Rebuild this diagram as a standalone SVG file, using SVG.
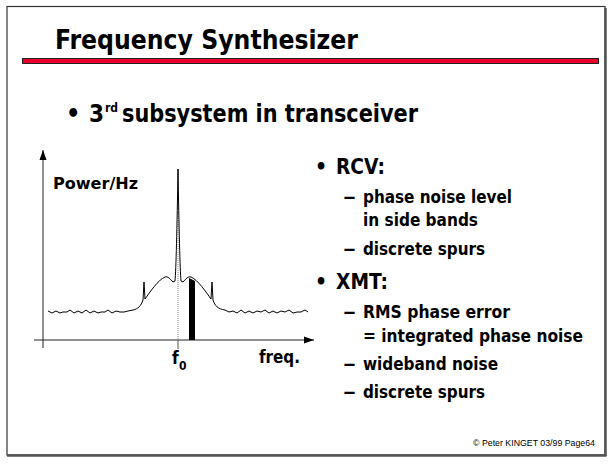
<svg xmlns="http://www.w3.org/2000/svg" width="613" height="472" viewBox="0 0 613 472">
<style>
.t{font-family:"DejaVu Sans Condensed","DejaVu Sans",sans-serif;font-weight:bold;fill:#000}
.ln{fill:none;stroke:#000;stroke-width:1}
.ax{fill:none;stroke:#222;stroke-width:1}
</style>
<defs>
<marker id="arr" viewBox="0 0 10 10" refX="10" refY="5" markerWidth="10" markerHeight="10" markerUnits="userSpaceOnUse" orient="auto">
<path d="M0,1.5 L10,5 L0,8.5 Z" fill="#000"/>
</marker>
</defs>
<rect width="613" height="472" fill="#fff"/>
<g id="frame">
<rect x="7" y="6.5" width="598" height="448.5" fill="none" stroke="#333" stroke-width="1.2"/>
<line x1="605.5" y1="8" x2="605.5" y2="456" stroke="#555" stroke-width="2.5"/>
<line x1="7" y1="455.5" x2="606.5" y2="455.5" stroke="#555" stroke-width="2.5"/>
</g>
<g id="title">
<text class="t" x="55" y="49" font-size="26" textLength="303" lengthAdjust="spacingAndGlyphs">Frequency Synthesizer</text>
<rect x="22.5" y="58.5" width="576" height="5" fill="#e8002a" stroke="#222" stroke-width="1"/>
</g>
<g id="main-bullet">
<text class="t" x="66" y="122" font-size="25">•</text>
<text class="t" x="89" y="122" font-size="24">3<tspan x="105" y="112" font-size="12">rd</tspan><tspan x="122" y="122" font-size="25" textLength="296" lengthAdjust="spacingAndGlyphs">subsystem in transceiver</tspan></text>
</g>
<g id="chart">
<g id="axes">
<line class="ax" x1="43" y1="348" x2="43" y2="150" marker-end="url(#arr)"/>
<line class="ax" x1="34" y1="340" x2="314" y2="340" marker-end="url(#arr)"/>
<line x1="178" y1="170" x2="178" y2="340" stroke="#888" stroke-width="1" stroke-dasharray="1,1"/>
<line x1="178" y1="340" x2="178" y2="349" stroke="#555" stroke-width="1"/>
</g>
<g id="spectrum">
<path class="ln" d="M48,311 L52,313 L56,311 L60,313 L63,312 L67,312 L70,310 L74,313 L78,311 L82,313 L86,310 L90,313 L94,311 L98,313 L101,312 L105,312 L108,310 L112,313 L116,311 L120,312 L124,312 L128,311 L133,310 C138,309 141,306 143,300 L144,282 L145,299 C150,292 158,280 165,277 C168,276 170,279 173,282 L175,281 C176,270 177,230 178,169 C179,230 180,270 181,281 L183,282 C186,279 188,276 191,277 C198,280 206,292 211,299 L212,282 L213,300 C215,306 218,309 225,310 L229,312 L233,311 L237,313 L241,310 L245,313 L249,311 L253,313 L257,311 L261,312 L265,310 L269,313 L273,311 L277,313 L281,311 L285,312 L289,310 L293,313 L297,312 L301,312 L305,310 L308,312"/>
<polygon points="189,278 195,281 195,340 189,340" fill="#000"/>
</g>
<text class="t" x="53" y="189" font-size="16" textLength="85" lengthAdjust="spacingAndGlyphs">Power/Hz</text>
<text class="t" x="172" y="364" font-size="17">f<tspan x="179" y="370" font-size="12">0</tspan></text>
<text class="t" x="259" y="363" font-size="18" textLength="41" lengthAdjust="spacingAndGlyphs">freq.</text>
</g>
<g id="rcv">
<text class="t" x="315" y="174" font-size="21">•</text>
<text class="t" x="336" y="174" font-size="21" textLength="49" lengthAdjust="spacingAndGlyphs">RCV:</text>
<text class="t" x="343" y="203" font-size="18" textLength="13" lengthAdjust="spacingAndGlyphs">–</text>
<text class="t" x="363" y="203" font-size="18" textLength="149" lengthAdjust="spacingAndGlyphs">phase noise level</text>
<text class="t" x="363" y="226" font-size="18" textLength="115" lengthAdjust="spacingAndGlyphs">in side bands</text>
<text class="t" x="343" y="255" font-size="18" textLength="13" lengthAdjust="spacingAndGlyphs">–</text>
<text class="t" x="363" y="255" font-size="18" textLength="122" lengthAdjust="spacingAndGlyphs">discrete spurs</text>
</g>
<g id="xmt">
<text class="t" x="315" y="289" font-size="21">•</text>
<text class="t" x="336" y="289" font-size="21" textLength="52" lengthAdjust="spacingAndGlyphs">XMT:</text>
<text class="t" x="343" y="318" font-size="18" textLength="13" lengthAdjust="spacingAndGlyphs">–</text>
<text class="t" x="363" y="318" font-size="18" textLength="147" lengthAdjust="spacingAndGlyphs">RMS phase error</text>
<text class="t" x="363" y="342" font-size="18" textLength="220" lengthAdjust="spacingAndGlyphs">= integrated phase noise</text>
<text class="t" x="343" y="370" font-size="18" textLength="13" lengthAdjust="spacingAndGlyphs">–</text>
<text class="t" x="363" y="370" font-size="18" textLength="135" lengthAdjust="spacingAndGlyphs">wideband noise</text>
<text class="t" x="343" y="398" font-size="18" textLength="13" lengthAdjust="spacingAndGlyphs">–</text>
<text class="t" x="363" y="398" font-size="18" textLength="122" lengthAdjust="spacingAndGlyphs">discrete spurs</text>
</g>
<g id="footer">
<text x="473" y="446" font-family="Liberation Sans, Arial, sans-serif" font-size="9.5" fill="#000" textLength="122" lengthAdjust="spacingAndGlyphs">© Peter KINGET  03/99 Page64</text>
</g>
</svg>
